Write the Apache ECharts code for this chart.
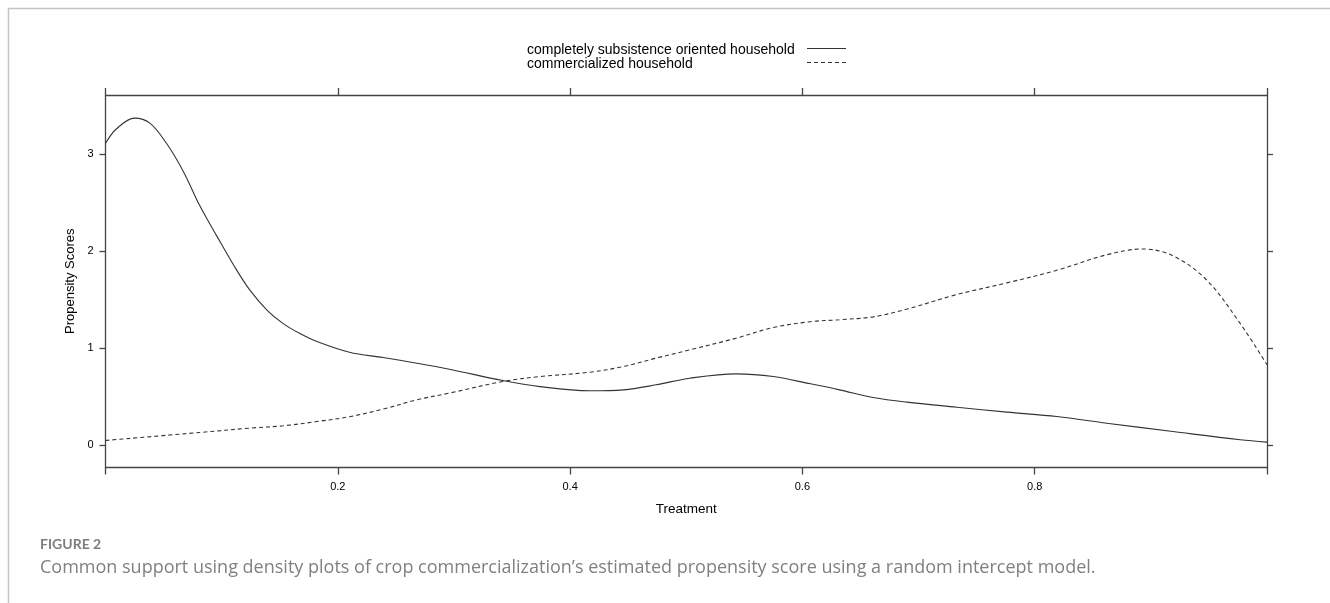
<!DOCTYPE html>
<html><head><meta charset="utf-8">
<script src="https://cdn.jsdelivr.net/npm/echarts@6/dist/echarts.min.js"></script>
<style>html,body{margin:0;padding:0;background:#fff}#c{width:1330px;height:603px}</style>
</head><body><div id="c"></div>
<script>
const seriesNames = ['completely subsistence oriented household', 'commercialized household'];
const subsistence = [[0,3.11],[0.0095,3.26],[0.025,3.37],[0.038,3.32],[0.0525,3.11],[0.067,2.82],[0.081,2.47],[0.096,2.15],[0.110,1.86],[0.124,1.60],[0.139,1.39],[0.153,1.25],[0.167,1.15],[0.182,1.065],[0.210,0.955],[0.239,0.90],[0.268,0.842],[0.296,0.78],[0.342,0.663],[0.374,0.60],[0.417,0.557],[0.446,0.567],[0.474,0.619],[0.503,0.687],[0.543,0.732],[0.575,0.704],[0.607,0.629],[0.632,0.567],[0.661,0.488],[0.690,0.44],[0.733,0.388],[0.776,0.337],[0.819,0.292],[0.862,0.223],[0.919,0.137],[0.977,0.052],[1,0.028]];
const commercialized = [[0,0.045],[0.081,0.127],[0.124,0.172],[0.153,0.196],[0.182,0.24],[0.210,0.29],[0.239,0.368],[0.268,0.464],[0.296,0.533],[0.342,0.653],[0.374,0.704],[0.417,0.749],[0.446,0.808],[0.474,0.894],[0.503,0.979],[0.543,1.10],[0.575,1.21],[0.607,1.27],[0.632,1.29],[0.661,1.32],[0.690,1.40],[0.733,1.55],[0.776,1.67],[0.819,1.80],[0.862,1.96],[0.893,2.02],[0.919,1.95],[0.948,1.70],[0.977,1.25],[1,0.825]];
const xTicks = [0, 0.2, 0.4, 0.6, 0.8, 1];
const xLabels = [0.2, 0.4, 0.6, 0.8];
const yTicks = [0, 1, 2, 3];
const xTitle = 'Treatment';
const yTitle = 'Propensity Scores';
const figLabel = 'FIGURE 2';
const caption = 'Common support using density plots of crop commercialization\u2019s estimated propensity score using a random intercept model.';

const axisCol = '#444';
const lineCol = '#333';
const font = '"Liberation Sans", Arial, sans-serif';
const chart = echarts.init(document.getElementById('c'), null, {renderer: 'canvas'});
const baseX = {
  type: 'value', min: 0, max: 1,
  axisLine: {show: true, onZero: false, lineStyle: {color: axisCol, width: 1.3}},
  axisTick: {show: true, length: 7, customValues: xTicks, lineStyle: {color: axisCol, width: 1.3}},
  splitLine: {show: false}
};
const baseY = {
  type: 'value', min: -0.234, max: 3.608,
  axisLine: {show: true, onZero: false, lineStyle: {color: axisCol, width: 1.3}},
  axisTick: {show: true, length: 6, customValues: yTicks, lineStyle: {color: axisCol, width: 1.3}},
  splitLine: {show: false}
};
const dash = [4, 3];
chart.setOption({
  animation: false,
  grid: {left: 105.5, right: 63, top: 95, bottom: 135.5, containLabel: false},
  title: [
    {text: figLabel, left: 40, top: 537, padding: 0, textStyle: {fontFamily: 'Lato, "Open Sans", sans-serif', fontWeight: 'bold', fontSize: 14, color: '#7d7d7d'}},
    {text: caption, left: 40, top: 559, padding: 0, textStyle: {fontFamily: '"Open Sans", Lato, sans-serif', fontWeight: 'normal', fontSize: 18, color: '#808080'}}
  ],
  xAxis: [
    Object.assign({}, baseX, {position: 'bottom', name: xTitle, nameLocation: 'middle', nameGap: 35,
      nameTextStyle: {fontFamily: font, fontSize: 13.5, color: '#000'},
      axisLabel: {show: true, customValues: xLabels, margin: 14, fontFamily: font, fontSize: 11, color: '#000'}}),
    Object.assign({}, baseX, {position: 'top', axisLabel: {show: false}})
  ],
  yAxis: [
    Object.assign({}, baseY, {position: 'left', name: yTitle, nameLocation: 'middle', nameGap: 28,
      nameTextStyle: {fontFamily: font, fontSize: 13, color: '#000'},
      axisLabel: {show: true, customValues: yTicks, margin: 12, fontFamily: font, fontSize: 11, color: '#000'}}),
    Object.assign({}, baseY, {position: 'right', axisLabel: {show: false}})
  ],
  series: [
    {name: seriesNames[0], type: 'line', data: subsistence, smooth: 0.35, showSymbol: false, symbol: 'none',
      lineStyle: {color: lineCol, width: 1.1, type: 'solid'}, itemStyle: {color: lineCol}},
    {name: seriesNames[1], type: 'line', data: commercialized, smooth: 0.35, showSymbol: false, symbol: 'none',
      lineStyle: {color: lineCol, width: 1.1, type: dash}, itemStyle: {color: lineCol}}
  ],
  graphic: [
    {type: 'rect', left: 6, top: 6, shape: {width: 1323, height: 640}, style: {fill: 'none', stroke: '#c4c4c4', lineWidth: 1.5}, silent: true},
    {type: 'text', left: 527, top: 43.5, style: {text: seriesNames[0], font: '14px ' + font, fill: '#000'}},
    {type: 'text', left: 527, top: 57, style: {text: seriesNames[1], font: '14px ' + font, fill: '#000'}},
    {type: 'line', shape: {x1: 807, y1: 48.5, x2: 846, y2: 48.5}, style: {stroke: lineCol, lineWidth: 1.1}},
    {type: 'line', shape: {x1: 807, y1: 62.5, x2: 846, y2: 62.5}, style: {stroke: lineCol, lineWidth: 1.1, lineDash: dash}}
  ]
});
</script></body></html>
